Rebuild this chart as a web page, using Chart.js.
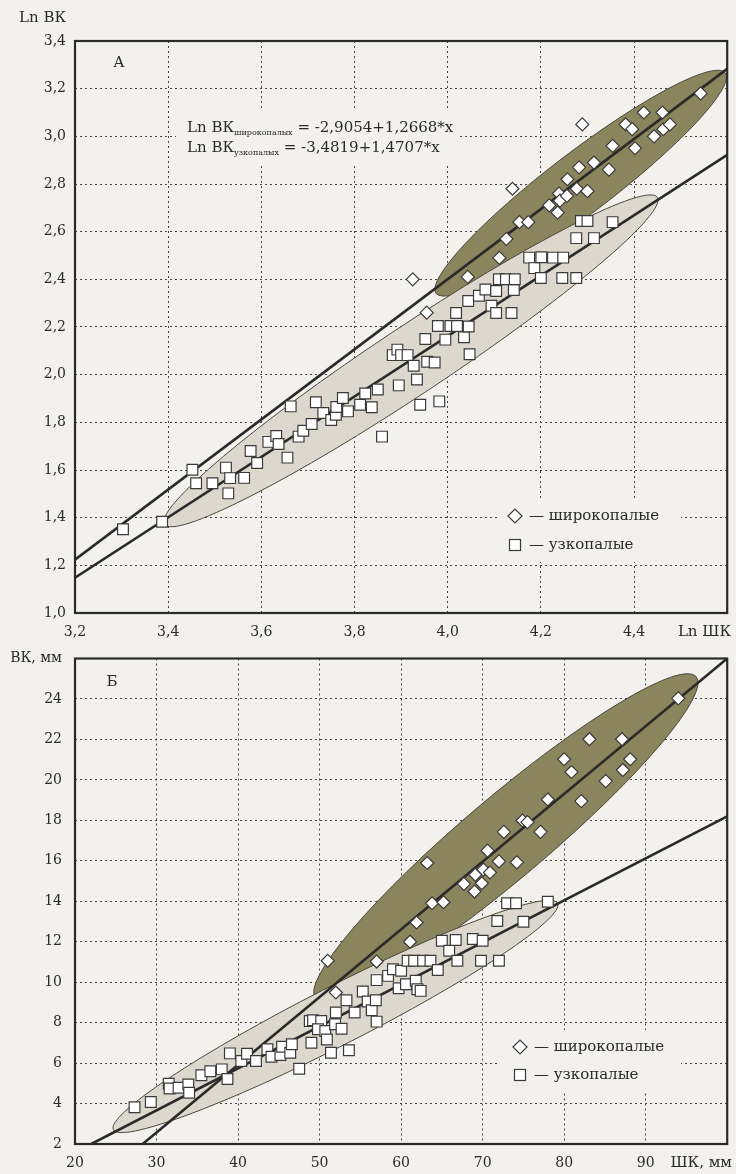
<!DOCTYPE html>
<html lang="ru">
<head>
<meta charset="utf-8">
<title>ВК и ШК</title>
<script src="https://cdn.jsdelivr.net/npm/chart.js@4.4.1/dist/chart.umd.min.js"></script>
<style>
  html, body { margin: 0; padding: 0; background: #f2f1ee; }
  #wrap { position: relative; width: 736px; height: 1174px; }
  #chartA { position: absolute; left: 0; top: 0; }
  #chartB { position: absolute; left: 0; top: 645px; }
</style>
</head>
<body>
<div id="wrap">
  <canvas id="chartA" width="736" height="645"></canvas>
  <canvas id="chartB" width="736" height="529"></canvas>
</div>
<script>
// ---------- А: логарифмы ----------
const lnShkTicks = [3.2, 3.4, 3.6, 3.8, 4.0, 4.2, 4.4, 4.6];
const lnVkTicks = [1.0, 1.2, 1.4, 1.6, 1.8, 2.0, 2.2, 2.4, 2.6, 2.8, 3.0, 3.2, 3.4];

// широкопалые (ромбы)
const lnBroadShk = [3.925, 3.955, 4.043, 4.111, 4.126, 4.139, 4.154, 4.173, 4.218, 4.236,
  4.239, 4.241, 4.256, 4.257, 4.277, 4.282, 4.289, 4.300, 4.314, 4.346,
  4.354, 4.382, 4.396, 4.402, 4.421, 4.443, 4.461, 4.463, 4.477, 4.543];
const lnBroadVk = [2.40, 2.26, 2.41, 2.49, 2.57, 2.78, 2.64, 2.64, 2.71, 2.68,
  2.76, 2.73, 2.75, 2.82, 2.78, 2.87, 3.05, 2.77, 2.89, 2.86,
  2.96, 3.05, 3.03, 2.95, 3.10, 3.00, 3.10, 3.03, 3.05, 3.18];

// узкопалые (квадраты)
const lnNarrowShk = [3.303, 3.387, 3.452, 3.460, 3.495, 3.524, 3.533, 3.529, 3.563, 3.577,
  3.591, 3.615, 3.632, 3.637, 3.656, 3.663, 3.680, 3.690, 3.708, 3.717,
  3.733, 3.750, 3.760, 3.761, 3.775, 3.786, 3.812, 3.823, 3.837, 3.850,
  3.859, 3.882, 3.892, 3.900, 3.914, 3.895, 3.927, 3.934, 3.941, 3.952,
  3.956, 3.972, 3.982, 3.979, 3.995, 4.006, 4.020, 4.018, 4.035, 4.047,
  4.044, 4.045, 4.067, 4.081, 4.094, 4.104, 4.104, 4.110, 4.125, 4.142,
  4.137, 4.144, 4.175, 4.186, 4.201, 4.200, 4.226, 4.248, 4.246, 4.276,
  4.276, 4.314, 4.286, 4.300, 4.354];
const lnNarrowVk = [1.351, 1.383, 1.601, 1.544, 1.544, 1.610, 1.566, 1.502, 1.567, 1.680,
  1.629, 1.718, 1.743, 1.709, 1.652, 1.867, 1.740, 1.765, 1.793, 1.884,
  1.839, 1.810, 1.832, 1.864, 1.902, 1.846, 1.874, 1.921, 1.863, 1.938,
  1.740, 2.082, 2.105, 2.082, 2.082, 1.955, 2.037, 1.980, 1.874, 2.150,
  2.054, 2.051, 1.888, 2.204, 2.147, 2.204, 2.204, 2.259, 2.157, 2.086,
  2.309, 2.202, 2.331, 2.357, 2.289, 2.259, 2.351, 2.400, 2.400, 2.355,
  2.259, 2.400, 2.491, 2.447, 2.493, 2.406, 2.491, 2.491, 2.406, 2.406,
  2.573, 2.573, 2.645, 2.645, 2.640];

// линии регрессии (концы у краёв поля)
const lnFitSteepShk = [3.2, 4.6];
const lnFitSteepVk = [1.224, 3.283];
const lnFitFlatShk = [3.2, 4.6];
const lnFitFlatVk = [1.148, 2.922];

// эллипсы: концы большой оси
const lnBroadEllShk = [3.975, 4.596];
const lnBroadEllVk = [2.341, 3.266];
const lnNarrowEllShk = [3.392, 4.450];
const lnNarrowEllVk = [1.372, 2.744];

// ---------- Б: миллиметры ----------
const mmShkTicks = [20, 30, 40, 50, 60, 70, 80, 90, 100];
const mmVkTicks = [2, 4, 6, 8, 10, 12, 14, 16, 18, 20, 22, 24, 26];

const mmBroadShk = [51.0, 52.0, 57.0, 61.1, 61.9, 63.2, 63.8, 65.2, 67.7, 69.0,
  69.1, 69.9, 70.1, 70.6, 70.9, 72.0, 72.6, 74.2, 74.9, 75.5,
  77.1, 78.0, 80.0, 80.9, 82.1, 83.1, 85.1, 87.1, 87.2, 88.1, 94.0];
const mmBroadVk = [11.06, 9.49, 11.02, 12.0, 12.95, 15.89, 13.9, 13.95, 14.86, 14.48,
  15.31, 14.89, 15.56, 16.5, 15.42, 15.97, 17.43, 15.92, 17.99, 17.91,
  17.43, 19.03, 21.02, 20.39, 18.95, 22.01, 19.94, 22.01, 20.49, 21.02, 24.03];

const mmNarrowShk = [27.3, 29.3, 31.5, 31.6, 32.7, 33.9, 34.0, 35.5, 36.6, 38.0,
  38.7, 39.0, 40.4, 41.1, 42.2, 43.6, 44.1, 45.2, 45.4, 46.4,
  46.6, 47.5, 48.8, 49.2, 50.2, 49.0, 49.8, 50.7, 50.9, 51.4,
  51.9, 52.0, 52.7, 53.3, 53.6, 54.3, 55.3, 55.9, 56.4, 56.9,
  57.0, 57.0, 58.4, 59.0, 59.7, 60.0, 60.6, 60.8, 61.6, 61.8,
  62.0, 62.4, 62.7, 63.6, 64.5, 65.0, 65.9, 66.7, 66.9, 68.8,
  69.8, 70.0, 71.8, 72.0, 73.0, 74.1, 75.0, 78.0];
const mmNarrowVk = [3.82, 4.08, 4.98, 4.74, 4.78, 4.94, 4.53, 5.40, 5.60, 5.69,
  5.21, 6.48, 6.10, 6.46, 6.10, 6.68, 6.31, 6.40, 6.81, 6.51,
  6.93, 5.72, 8.08, 8.12, 8.08, 7.01, 7.67, 7.59, 7.17, 6.51,
  7.92, 8.50, 7.70, 9.11, 6.63, 8.50, 9.54, 9.04, 8.61, 9.11,
  8.05, 10.10, 10.31, 10.64, 9.70, 10.56, 9.90, 11.06, 11.06, 10.07,
  9.65, 9.57, 11.06, 11.06, 10.60, 12.05, 11.55, 12.08, 11.06, 12.13,
  11.06, 12.05, 13.02, 11.06, 13.90, 13.90, 12.99, 13.98];

const mmFitSteepShk = [28.3, 100];
const mmFitSteepVk = [2, 26.0];
const mmFitFlatShk = [22.0, 100];
const mmFitFlatVk = [2, 18.2];

const mmBroadEllShk = [49.5, 96.2];
const mmBroadEllVk = [9.2, 25.1];
const mmNarrowEllShk = [24.7, 79.2];
const mmNarrowEllVk = [2.71, 13.9];

// ---------- оформление ----------
const BG = '#f2f1ee';
const INK = '#2a2a2a';
const SERIF = "'DejaVu Serif', 'Liberation Serif', serif";
const OLIVE = '#8b855d';
const SAND = '#ddd8cd';

const pts = (xs, ys) => xs.map((v, i) => ({ x: v, y: ys[i] }));
const commaFmt = v => v.toFixed(1).replace('.', ',');

function drawDiamond(ctx, x, y, r) {
  ctx.beginPath();
  ctx.moveTo(x - r, y); ctx.lineTo(x, y - r); ctx.lineTo(x + r, y); ctx.lineTo(x, y + r);
  ctx.closePath();
  ctx.fillStyle = '#fff'; ctx.fill();
  ctx.lineWidth = 1.2; ctx.strokeStyle = '#3a3a3a'; ctx.stroke();
}
function drawSquare(ctx, x, y, h) {
  ctx.fillStyle = '#fff'; ctx.fillRect(x - h, y - h, 2 * h, 2 * h);
  ctx.lineWidth = 1.2; ctx.strokeStyle = '#3a3a3a'; ctx.strokeRect(x - h, y - h, 2 * h, 2 * h);
}

// без лишних отступов от подписей – поле задаётся только layout.padding
function noScalePadding(s) {
  s.paddingTop = 0; s.paddingBottom = 0; s.paddingLeft = 0; s.paddingRight = 0;
}

const decor = {
  id: 'decor',
  beforeDatasetsDraw(chart, args, o) {
    const { ctx, chartArea: a, scales: { x, y } } = chart;
    ctx.save();
    // светлые подложки под легендой и формулами
    ctx.fillStyle = BG;
    (o.patches || []).forEach(p => ctx.fillRect(p[0], p[1], p[2] - p[0], p[3] - p[1]));
    ctx.beginPath();
    ctx.rect(a.left, a.top, a.width, a.height);
    ctx.clip();
    (o.ellipses || []).forEach(e => {
      const x1 = x.getPixelForValue(e.xs[0]), y1 = y.getPixelForValue(e.ys[0]);
      const x2 = x.getPixelForValue(e.xs[1]), y2 = y.getPixelForValue(e.ys[1]);
      const len = Math.hypot(x2 - x1, y2 - y1);
      ctx.beginPath();
      ctx.ellipse((x1 + x2) / 2, (y1 + y2) / 2, len / 2, len * e.ratio / 2,
        Math.atan2(y2 - y1, x2 - x1), 0, Math.PI * 2);
      ctx.fillStyle = e.fill; ctx.fill();
      ctx.lineWidth = 1; ctx.strokeStyle = '#4a483c'; ctx.stroke();
    });
    ctx.restore();
  },
  afterDraw(chart, args, o) {
    const { ctx, chartArea: a } = chart;
    ctx.save();
    ctx.lineWidth = 2.2; ctx.strokeStyle = INK;
    ctx.strokeRect(a.left, a.top, a.width, a.height);
    ctx.fillStyle = INK;
    ctx.textBaseline = 'middle';
    (o.texts || []).forEach(t => {
      ctx.font = (t.size || 15) + 'px ' + SERIF;
      ctx.textAlign = t.align || 'left';
      ctx.fillText(t.text, t.x, t.y);
    });
    (o.equations || []).forEach(q => {
      let cx = q.x;
      ctx.textAlign = 'left';
      ctx.font = '15px ' + SERIF;
      ctx.fillText(q.head, cx, q.y); cx += ctx.measureText(q.head).width;
      ctx.font = '8px ' + SERIF;
      ctx.fillText(q.sub, cx, q.y + 5); cx += ctx.measureText(q.sub).width;
      ctx.font = '15px ' + SERIF;
      ctx.fillText(q.tail, cx, q.y);
    });
    if (o.legend) {
      const L = o.legend;
      drawDiamond(ctx, L.x, L.y1, 7);
      drawSquare(ctx, L.x, L.y2, 5.5);
      ctx.fillStyle = INK; ctx.font = '15px ' + SERIF; ctx.textAlign = 'left';
      ctx.fillText('— широкопалые', L.x + 14, L.y1);
      ctx.fillText('— узкопалые', L.x + 14, L.y2);
    }
    ctx.restore();
  }
};

function makeChart(id, cfg) {
  const scaleFont = { family: SERIF, size: 14 };
  return new Chart(document.getElementById(id), {
    type: 'scatter',
    data: {
      datasets: [
        { data: pts(cfg.broadX, cfg.broadY), pointStyle: 'rectRot', pointRadius: 6.5,
          backgroundColor: '#fff', borderColor: '#3a3a3a', borderWidth: 1.2 },
        { data: pts(cfg.narrowX, cfg.narrowY), pointStyle: 'rect', pointRadius: 7.6,
          backgroundColor: '#fff', borderColor: '#3a3a3a', borderWidth: 1.2 },
        { data: pts(cfg.steepX, cfg.steepY), showLine: true, pointRadius: 0,
          borderColor: INK, borderWidth: 2.6 },
        { data: pts(cfg.flatX, cfg.flatY), showLine: true, pointRadius: 0,
          borderColor: INK, borderWidth: 2.6 }
      ]
    },
    options: {
      responsive: false,
      animation: false,
      events: [],
      layout: { padding: cfg.padding },
      plugins: {
        legend: { display: false },
        tooltip: { enabled: false },
        decor: cfg.decor
      },
      scales: {
        x: {
          type: 'linear', min: cfg.xTicks[0], max: cfg.xTicks[cfg.xTicks.length - 1],
          afterBuildTicks: s => { s.ticks = cfg.xTicks.map(v => ({ value: v })); },
          afterFit: s => { s.height = cfg.xAxisH; noScalePadding(s); },
          grid: { color: '#444', lineWidth: 1, drawTicks: false },
          border: { display: false, dash: [2, 3] },
          ticks: { autoSkip: false, maxRotation: 0, padding: cfg.xPad, color: INK, font: scaleFont,
            callback: cfg.xFmt }
        },
        y: {
          type: 'linear', min: cfg.yTicks[0], max: cfg.yTicks[cfg.yTicks.length - 1],
          afterBuildTicks: s => { s.ticks = cfg.yTicks.map(v => ({ value: v })); },
          afterFit: s => { s.width = 75; noScalePadding(s); },
          grid: { color: '#444', lineWidth: 1, drawTicks: false },
          border: { display: false, dash: [2, 3] },
          ticks: { autoSkip: false, padding: cfg.yPad, color: INK, font: scaleFont,
            callback: cfg.yFmt }
        }
      }
    },
    plugins: [decor]
  });
}

makeChart('chartA', {
  broadX: lnBroadShk, broadY: lnBroadVk, narrowX: lnNarrowShk, narrowY: lnNarrowVk,
  steepX: lnFitSteepShk, steepY: lnFitSteepVk, flatX: lnFitFlatShk, flatY: lnFitFlatVk,
  xTicks: lnShkTicks, yTicks: lnVkTicks,
  padding: { top: 41, right: 7, bottom: 0, left: 0 },
  xAxisH: 32, xPad: 11, yPad: 9,
  xFmt: v => (v > 4.55 ? '' : commaFmt(v)),
  yFmt: v => commaFmt(v),
  decor: {
    patches: [[176, 110, 458, 163], [497, 500, 681, 562]],
    ellipses: [
      { xs: lnBroadEllShk, ys: lnBroadEllVk, ratio: 0.17, fill: OLIVE },
      { xs: lnNarrowEllShk, ys: lnNarrowEllVk, ratio: 0.115, fill: SAND }
    ],
    texts: [
      { text: 'Ln ВК', x: 19, y: 18, size: 15 },
      { text: 'Ln ШК', x: 731, y: 632, size: 15, align: 'right' },
      { text: 'А', x: 119, y: 63, size: 15, align: 'center' }
    ],
    equations: [
      { x: 187, y: 128, head: 'Ln ВК', sub: 'широкопалых', tail: ' = -2,9054+1,2668*x' },
      { x: 187, y: 148, head: 'Ln ВК', sub: 'узкопалых', tail: ' = -3,4819+1,4707*x' }
    ],
    legend: { x: 515, y1: 516, y2: 545 }
  }
});

makeChart('chartB', {
  broadX: mmBroadShk, broadY: mmBroadVk, narrowX: mmNarrowShk, narrowY: mmNarrowVk,
  steepX: mmFitSteepShk, steepY: mmFitSteepVk, flatX: mmFitFlatShk, flatY: mmFitFlatVk,
  xTicks: mmShkTicks, yTicks: mmVkTicks,
  padding: { top: 13.5, right: 8, bottom: 0, left: 0 },
  xAxisH: 30, xPad: 11, yPad: 13,
  xFmt: v => (v >= 100 ? '' : String(v)),
  yFmt: v => (v >= 26 ? 'ВК, мм' : String(v)),
  decor: {
    patches: [[497, 385, 681, 447]],
    ellipses: [
      { xs: mmBroadEllShk, ys: mmBroadEllVk, ratio: 0.165, fill: OLIVE },
      { xs: mmNarrowEllShk, ys: mmNarrowEllVk, ratio: 0.117, fill: SAND }
    ],
    texts: [
      { text: 'ШК, мм', x: 732, y: 518, size: 15, align: 'right' },
      { text: 'Б', x: 112, y: 37, size: 15, align: 'center' }
    ],
    legend: { x: 520, y1: 402, y2: 430 }
  }
});
</script>
</body>
</html>
